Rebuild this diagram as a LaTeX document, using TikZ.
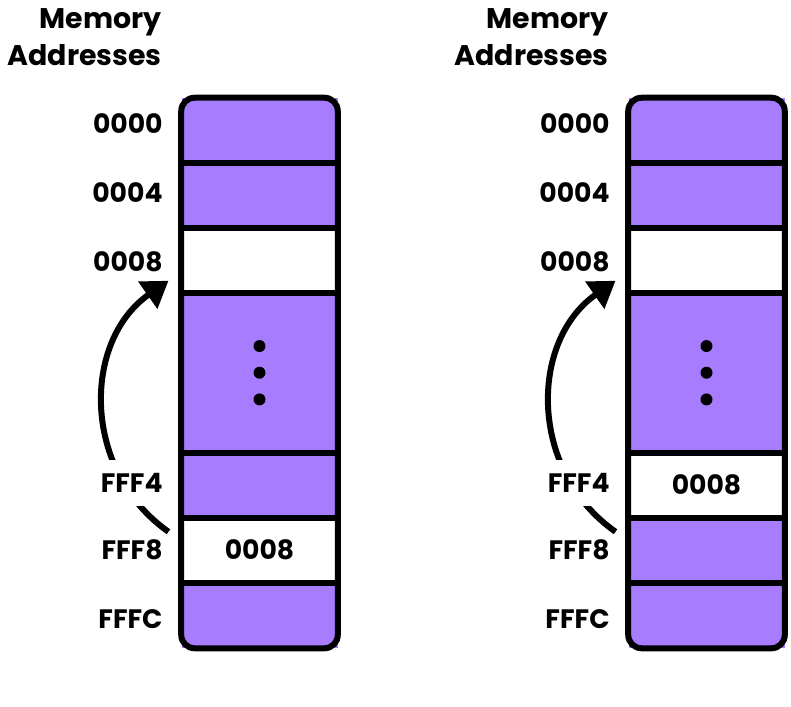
\documentclass[tikz,border=0pt]{standalone}
\usepackage{fontspec}
\setmainfont{Poppins}
\usepackage{tikz}
\usetikzlibrary{arrows.meta,positioning}
\definecolor{MPurple}{HTML}{A87CFF}
\newcommand\addrfont{\bfseries\fontsize{20}{24}\selectfont}
\newcommand\headfont{\bfseries\fontsize{21.3}{27.75}\selectfont}

\begin{document}
\begin{tikzpicture}[
  x=0.75pt,y=0.75pt,
  node distance=0pt,
  col/.style={fill=MPurple,minimum width=117pt,minimum height=412.5pt,inner sep=0pt},
  frame/.style={line width=4.5pt,rounded corners=10pt},
  cell/.style={minimum width=117pt,minimum height=48.75pt,inner sep=0pt,outer sep=0pt,font=\addrfont},
  free/.style={cell,fill=white},
  gap/.style={cell,minimum height=120pt},
  addr/.style={inner sep=0pt,font=\addrfont},
  head/.style={align=right,anchor=east,inner sep=0pt,font=\headfont},
  sep/.style={line width=4.5pt},
  jump/.style={-{Triangle[length=19pt,width=24pt]},line width=4.5pt}
]
  \useasboundingbox (0,0) rectangle (791,-706);

  % left column: value at FFF8
  \node[head] (h1) at (162,-37) {Memory\\Addresses};
  \node[col] (m1) at (259.5,-373) {};
  \node[cell,anchor=north] (a0) at (m1.north) {};
  \node[cell,below=of a0] (a1) {};
  \node[free,below=of a1] (a2) {};
  \node[gap,below=of a2] (a3) {};
  \node[cell,below=of a3] (a4) {};
  \node[free,below=of a4] (a5) {0008};
  \node[cell,below=of a5] (a6) {};

  % right column: value at FFF4
  \node[head] (h2) at (609,-37) {Memory\\Addresses};
  \node[col] (m2) at (706.5,-373) {};
  \node[cell,anchor=north] (b0) at (m2.north) {};
  \node[cell,below=of b0] (b1) {};
  \node[free,below=of b1] (b2) {};
  \node[gap,below=of b2] (b3) {};
  \node[free,below=of b3] (b4) {0008};
  \node[cell,below=of b4] (b5) {};
  \node[cell,below=of b5] (b6) {};

  \foreach \c in {a,b} {
    \foreach \i in {1,...,6}
      \draw[sep] (\c\i.north west) -- (\c\i.north east);
    \fill (\c3.center) circle (6);
    \fill ([yshift=20pt]\c3.center) circle (6);
    \fill ([yshift=-20pt]\c3.center) circle (6);
  }
  \draw[frame] (m1.north west) rectangle (m1.south east);
  \draw[frame] (m2.north west) rectangle (m2.south east);

  \draw[jump] ([shift={(-9.75pt,-10.5pt)}]a5.north west) to[out=145,in=-145,looseness=1.08]
    ([shift={(-9.75pt,9pt)}]a3.north west);
  \draw[jump] ([shift={(-9.75pt,-10.5pt)}]b5.north west) to[out=145,in=-145,looseness=1.08]
    ([shift={(-9.75pt,9pt)}]b3.north west);

  \node[addr,left=14pt of a0,yshift=4.9pt] (p0) {0000};
  \node[addr,left=14pt of a1,yshift=2.2pt] (p1) {0004};
  \node[addr,left=14pt of a2,yshift=-1.5pt] (p2) {0008};
  \node[addr,fill=white,inner xsep=4pt,inner ysep=10pt,left=10pt of a4,yshift=1.5pt] (p4) {FFF4};
  \node[addr,left=14pt of a5] (p5) {FFF8};
  \node[addr,left=14pt of a6,yshift=-2.6pt] (p6) {FFFC};

  \node[addr,left=14pt of b0,yshift=4.9pt] (q0) {0000};
  \node[addr,left=14pt of b1,yshift=2.2pt] (q1) {0004};
  \node[addr,left=14pt of b2,yshift=-1.5pt] (q2) {0008};
  \node[addr,fill=white,inner xsep=4pt,inner ysep=10pt,left=10pt of b4,yshift=1.5pt] (q4) {FFF4};
  \node[addr,left=14pt of b5] (q5) {FFF8};
  \node[addr,left=14pt of b6,yshift=-2.6pt] (q6) {FFFC};
\end{tikzpicture}
\end{document}
